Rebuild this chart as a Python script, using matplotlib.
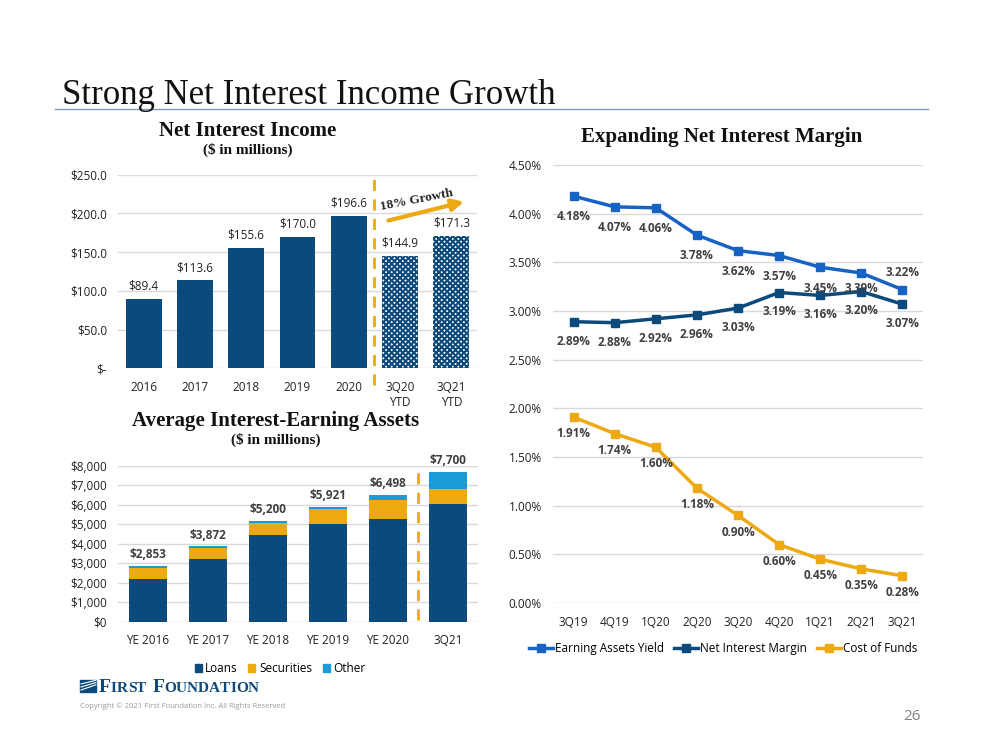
import matplotlib.pyplot as plt
import numpy as np
from matplotlib.lines import Line2D
from matplotlib.patches import Patch, Rectangle

# data
nii_cats = ["2016", "2017", "2018", "2019", "2020", "3Q20\nYTD", "3Q21\nYTD"]
nii_vals = [89.4, 113.6, 155.6, 170.0, 196.6, 144.9, 171.3]

aiea_cats = ["YE 2016", "YE 2017", "YE 2018", "YE 2019", "YE 2020", "3Q21"]
aiea_total = [2853, 3872, 5200, 5921, 6498, 7700]
loans = [2220, 3250, 4460, 5030, 5300, 6050]
securities = [550, 560, 600, 780, 960, 750]
other = [t - l - s for t, l, s in zip(aiea_total, loans, securities)]

quarters = ["3Q19", "4Q19", "1Q20", "2Q20", "3Q20", "4Q20", "1Q21", "2Q21", "3Q21"]
ea_yield = [4.18, 4.07, 4.06, 3.78, 3.62, 3.57, 3.45, 3.39, 3.22]
nim = [2.89, 2.88, 2.92, 2.96, 3.03, 3.19, 3.16, 3.20, 3.07]
cof = [1.91, 1.74, 1.60, 1.18, 0.90, 0.60, 0.45, 0.35, 0.28]

NAVY = "#0D4A7C"
GOLD = "#EDA812"
LIGHT = "#1A9BD8"
BLUE = "#1763C4"
TXT = "#404040"
GRID = "#D9D9D9"
SANS = ["Open Sans", "DejaVu Sans"]
SERIF = ["Liberation Serif", "DejaVu Serif"]

plt.rcParams['font.family'] = SANS
plt.rcParams['hatch.linewidth'] = 1.5

fig = plt.figure(figsize=(10, 7.5), dpi=100)

# page title
fig.text(0.062, 0.861, "Strong Net Interest Income Growth", family=SERIF,
         fontsize=25, color="#111111", ha="left", va="baseline")
fig.add_artist(Line2D([0.055, 0.928], [0.855, 0.855], color="#7F9AB5", lw=1.0))


def clean(ax):
    for s in ax.spines.values():
        s.set_visible(False)
    ax.tick_params(length=0, labelsize=8.5, colors="#222222")
    ax.grid(axis="y", color=GRID, lw=1)
    ax.set_axisbelow(True)


# Net Interest Income
ax1 = fig.add_axes([0.118, 0.509, 0.359, 0.258])
clean(ax1)
x = np.arange(len(nii_cats))
ax1.bar(x[:5], nii_vals[:5], width=0.7, color=NAVY)
ax1.bar(x[5:], nii_vals[5:], width=0.7, color="white", edgecolor=NAVY,
        hatch="xxxxxx", linewidth=0)
for xi, v in zip(x, nii_vals):
    ax1.text(xi, v + 8, f"${v:.1f}", ha="center", va="bottom", fontsize=8.5,
             color="#222222")
ax1.set_xlim(-0.5, len(nii_cats) - 0.5)
ax1.set_ylim(0, 250)
ax1.set_yticks(np.arange(0, 251, 50))
ax1.set_yticklabels(["$-"] + [f"${v:.1f}" for v in np.arange(50, 251, 50)])
ax1.set_xticks(x)
ax1.set_xticklabels(nii_cats)
ax1.tick_params(axis="y", pad=8)
ax1.tick_params(axis="x", pad=9)
ax1.plot([4.5, 4.5], [-22, 246], ls=(0, (4, 3)), color=GOLD, lw=2, clip_on=False)
ax1.annotate("", xy=(6.3, 216), xytext=(4.72, 190),
             arrowprops=dict(arrowstyle="-|>,head_length=0.7,head_width=0.35",
                             color=GOLD, lw=3))
ax1.text(5.33, 218, "18% Growth", family=SERIF, fontweight="bold", fontsize=9.5,
         rotation=11, ha="center", va="center", color="#222222")
fig.text(0.248, 0.826, "Net Interest Income", family=SERIF, fontweight="bold",
         fontsize=15, ha="center", va="center", color="#111111")
fig.text(0.248, 0.800, "($ in millions)", family=SERIF, fontweight="bold",
         fontsize=11, ha="center", va="center", color="#111111")

# Average Interest-Earning Assets
ax2 = fig.add_axes([0.118, 0.1707, 0.36, 0.208])
clean(ax2)
x2 = np.arange(len(aiea_cats))
ax2.bar(x2, loans, width=0.62, color=NAVY, label="Loans")
ax2.bar(x2, securities, width=0.62, bottom=loans, color=GOLD, label="Securities")
ax2.bar(x2, other, width=0.62, bottom=np.add(loans, securities), color=LIGHT,
        label="Other")
for xi, t in zip(x2, aiea_total):
    ax2.text(xi, t + 250, f"${t:,}", ha="center", va="bottom", fontsize=8.5,
             fontweight="bold", color=TXT)
ax2.set_xlim(-0.5, len(aiea_cats) - 0.5)
ax2.set_ylim(0, 8000)
ax2.set_yticks(np.arange(0, 8001, 1000))
ax2.set_yticklabels([f"${v:,}" for v in range(0, 8001, 1000)])
ax2.set_xticks(x2)
ax2.set_xticklabels(aiea_cats)
ax2.tick_params(axis="y", pad=8)
ax2.tick_params(axis="x", pad=9)
ax2.plot([4.5, 4.5], [100, 7800], ls=(0, (4, 3)), color=GOLD, lw=2, clip_on=False)
ax2.legend(handles=[Patch(color=NAVY, label="Loans"),
                    Patch(color=GOLD, label="Securities"),
                    Patch(color=LIGHT, label="Other")],
           loc="upper center", bbox_to_anchor=(0.45, -0.19), ncol=3, frameon=False,
           fontsize=8.5, handlelength=0.6, handleheight=0.6, handletextpad=0.3,
           columnspacing=0.9)
fig.text(0.276, 0.439, "Average Interest-Earning Assets", family=SERIF,
         fontweight="bold", fontsize=15, ha="center", va="center", color="#111111")
fig.text(0.276, 0.413, "($ in millions)", family=SERIF, fontweight="bold",
         fontsize=11, ha="center", va="center", color="#111111")

# Expanding Net Interest Margin
ax3 = fig.add_axes([0.553, 0.196, 0.37, 0.584])
clean(ax3)
xq = np.arange(len(quarters))
series = [(ea_yield, BLUE, "Earning Assets Yield"),
          (nim, NAVY, "Net Interest Margin"),
          (cof, GOLD, "Cost of Funds")]
for vals, col, lab in series:
    ax3.plot(xq, vals, color=col, lw=2.5, marker="s", markersize=5.5, label=lab)
for i, v in enumerate(ea_yield):
    dy = 12 if i == 8 else (-11 if i == 7 else -15)
    ax3.annotate(f"{v:.2f}%", (i, v), xytext=(0, dy), textcoords="offset points",
                 ha="center", va="center", fontsize=8.5, fontweight="bold", color=TXT)
for i, v in enumerate(nim):
    ax3.annotate(f"{v:.2f}%", (i, v), xytext=(0, -14), textcoords="offset points",
                 ha="center", va="center", fontsize=8.5, fontweight="bold", color=TXT)
for i, v in enumerate(cof):
    ax3.annotate(f"{v:.2f}%", (i, v), xytext=(0, -12), textcoords="offset points",
                 ha="center", va="center", fontsize=8.5, fontweight="bold", color=TXT)
ax3.set_xlim(-0.5, len(quarters) - 0.5)
ax3.set_ylim(0, 4.5)
ax3.set_yticks(np.arange(0, 4.51, 0.5))
ax3.set_yticklabels([f"{v:.2f}%" for v in np.arange(0, 4.51, 0.5)])
ax3.set_xticks(xq)
ax3.set_xticklabels(quarters)
ax3.tick_params(axis="y", pad=8)
ax3.tick_params(axis="x", pad=9)
ax3.legend(loc="upper center", bbox_to_anchor=(0.46, -0.065), ncol=3, frameon=False,
           fontsize=8.5, handlelength=2.0, handletextpad=0.15, columnspacing=0.9)
fig.text(0.722, 0.817, "Expanding Net Interest Margin", family=SERIF,
         fontweight="bold", fontsize=15, ha="center", va="center", color="#111111")

# footer: logo with small caps
fig.add_artist(Rectangle((0.080, 0.077), 0.016, 0.017, color=NAVY))
for k in range(3):
    fig.add_artist(Line2D([0.081, 0.096], [0.080 + k * 0.004, 0.087 + k * 0.003],
                          color="white", lw=0.8))
renderer = fig.canvas.get_renderer()
xpos = 0.099
for word in ["FIRST", "FOUNDATION"]:
    for j, ch in enumerate(word):
        t = fig.text(xpos, 0.078, ch, family=SERIF, fontweight="bold",
                     fontsize=14 if j == 0 else 11, color=NAVY, ha="left",
                     va="baseline")
        xpos += t.get_window_extent(renderer).width / fig.bbox.width
    xpos += 0.006
fig.text(0.080, 0.059, "Copyright \u00a9 2021 First Foundation Inc. All Rights Reserved",
         fontsize=5.5, color="#999999", ha="left", va="center")
fig.text(0.912, 0.045, "26", fontsize=11, color="#7f7f7f", ha="center", va="center")

fig.savefig("out.png", dpi=100)
